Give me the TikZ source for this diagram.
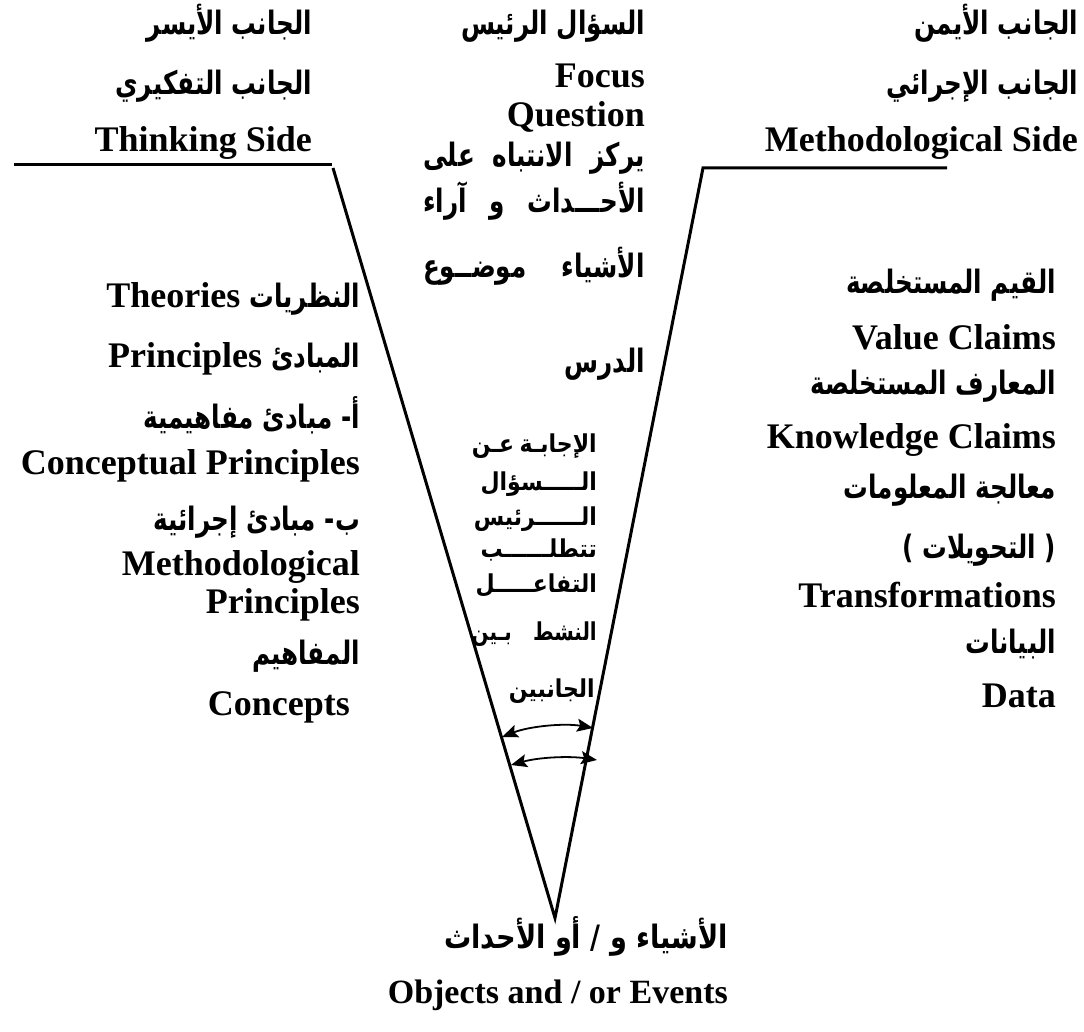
\documentclass[tikz,border=0pt]{standalone}
\usepackage{fontspec}
\usepackage{graphicx}
\setmainfont{Liberation Serif}
\newfontfamily\arabicfont[Script=Arabic]{DejaVu Sans}
\TeXXeTstate=1
\usetikzlibrary{arrows.meta}
\newcommand\ARbox[1]{\scalebox{0.88}[1.15]{#1}}
\newcommand\ARinner[1]{\scalebox{1}[1.12]{#1}}
\begin{document}
\begin{tikzpicture}[x=1pt,y=-1pt,
  en/.style={anchor=base east, inner sep=0pt, font=\fontsize{36}{40}\selectfont\bfseries},
  ar/.style={anchor=base east, inner sep=0pt, font=\fontsize{28}{32}\selectfont\arabicfont\bfseries},
  ars/.style={anchor=base east, inner sep=0pt, font=\fontsize{22}{26}\selectfont\arabicfont\bfseries},
  vline/.style={line width=3pt, line join=miter},
  dbl/.style={line width=1.8pt, {Stealth[length=16pt,width=13pt,inset=3pt]}-{Stealth[length=16pt,width=13pt,inset=3pt]}}
]
\fill[white] (0,0) rectangle (1084,1032);
\useasboundingbox (0,0) rectangle (1084,1032);

% geometry of the V
\coordinate (lh0) at (14,165);
\coordinate (lh1) at (332,165);
\coordinate (l0) at (333,168);
\coordinate (tip) at (555,918);
\coordinate (r0) at (703,168);
\coordinate (rh1) at (947,168);
\draw[vline] (lh0) -- (lh1);
\draw[vline] (l0) -- (tip) -- (r0) -- (rh1);

% double arrows
\coordinate (a1l) at (502,737);
\coordinate (a1r) at (593,728);
\coordinate (a2l) at (511,765);
\coordinate (a2r) at (597,760);
\draw[dbl] (a1l) .. controls (530,726) and (565,723) .. (a1r);
\draw[dbl] (a2l) .. controls (540,757) and (570,756) .. (a2r);

% left header
\node[ar] (lt1) at (312,35) {\ARbox{\beginR الجانب الأيسر\endR}};
\node[ar] (lt2) at (312,95) {\ARbox{\beginR الجانب التفكيري\endR}};
\node[en] (lt3) at (312,152) {Thinking Side};

% right header
\node[ar] (rt1) at (1078,35) {\ARbox{\beginR الجانب الأيمن\endR}};
\node[ar] (rt2) at (1078,95) {\ARbox{\beginR الجانب الإجرائي\endR}};
\node[en] (rt3) at (1078,152) {Methodological Side};

% center header
\node[ar] (ct1) at (645,35) {\ARbox{\beginR السؤال الرئيس\endR}};
\node[en] (ct2) at (645,88) {Focus};
\node[en] (ct3) at (645,127) {Question};
\node[ar] (ct4) at (645,167) {\ARbox{\hbox to 252pt{\beginR يركز\hfill الانتباه\hfill على\endR}}};
\node[ar] (ct5) at (645,213) {\ARbox{\hbox to 252pt{\beginR الأحـــداث\hfill و\hfill آراء\endR}}};
\node[ar] (ct6) at (645,278) {\ARbox{\hbox to 252pt{\beginR الأشياء\hfill موضــوع\endR}}};
\node[ar] (ct7) at (645,372) {\ARbox{الدرس}};

% inner text
\node[ars] (in1) at (597,452) {\ARinner{\hbox to 125pt{\beginR الإجابـة\hfill عـن\endR}}};
\node[ars] (in2) at (597,490) {\ARinner{الـــــسؤال}};
\node[ars] (in3) at (597,525) {\ARinner{الــــــرئيس}};
\node[ars] (in4) at (597,557) {\ARinner{تتطلــــــب}};
\node[ars] (in5) at (597,592) {\ARinner{التفاعـــــل}};
\node[ars] (in6) at (597,640) {\scalebox{0.9}[1.12]{\hbox to 139pt{\beginR النشط\hfill بـين\endR}}};
\node[ars] (in7) at (595,697) {\ARinner{الجانبين}};

% left column
\node[en] (lc1) at (360,307) {Theories {\arabicfont\fontsize{28}{32}\selectfont\ARbox{النظريات}}};
\node[en] (lc2) at (360,367) {Principles {\arabicfont\fontsize{28}{32}\selectfont\ARbox{المبادئ}}};
\node[ar] (lc3) at (360,428) {\ARbox{\beginR أ- مبادئ مفاهيمية\endR}};
\node[en] (lc4) at (360,474) {Conceptual Principles};
\node[ar] (lc5) at (360,530) {\ARbox{\beginR ب- مبادئ إجرائية\endR}};
\node[en] (lc6) at (360,575) {Methodological};
\node[en] (lc7) at (360,613) {Principles};
\node[ar] (lc8) at (360,664) {\ARbox{المفاهيم}};
\node[en] (lc9) at (350,715) {Concepts};

% right column
\node[ar] (rc1) at (1056,294) {\ARbox{\beginR القيم المستخلصة\endR}};
\node[en] (rc2) at (1056,349) {Value Claims};
\node[ar] (rc3) at (1056,394) {\ARbox{\beginR المعارف المستخلصة\endR}};
\node[en] (rc4) at (1056,448) {Knowledge Claims};
\node[ar] (rc5) at (1056,498) {\ARbox{\beginR معالجة المعلومات\endR}};
\node[ar] (rc6) at (1056,558) {\ARbox{\beginR( التحويلات )\endR}};
\node[en] (rc7) at (1056,607) {Transformations};
\node[ar] (rc8) at (1056,653) {\ARbox{البيانات}};
\node[en] (rc9) at (1056,707) {Data};

% bottom
\node[ar] (b1) at (728,948) {\scalebox{0.97}[1.15]{\beginR الأشياء و / أو الأحداث\endR}};
\node[en, font=\fontsize{34}{38}\selectfont\bfseries] (b2) at (728,1003) {Objects and / or Events};
\end{tikzpicture}
\end{document}
